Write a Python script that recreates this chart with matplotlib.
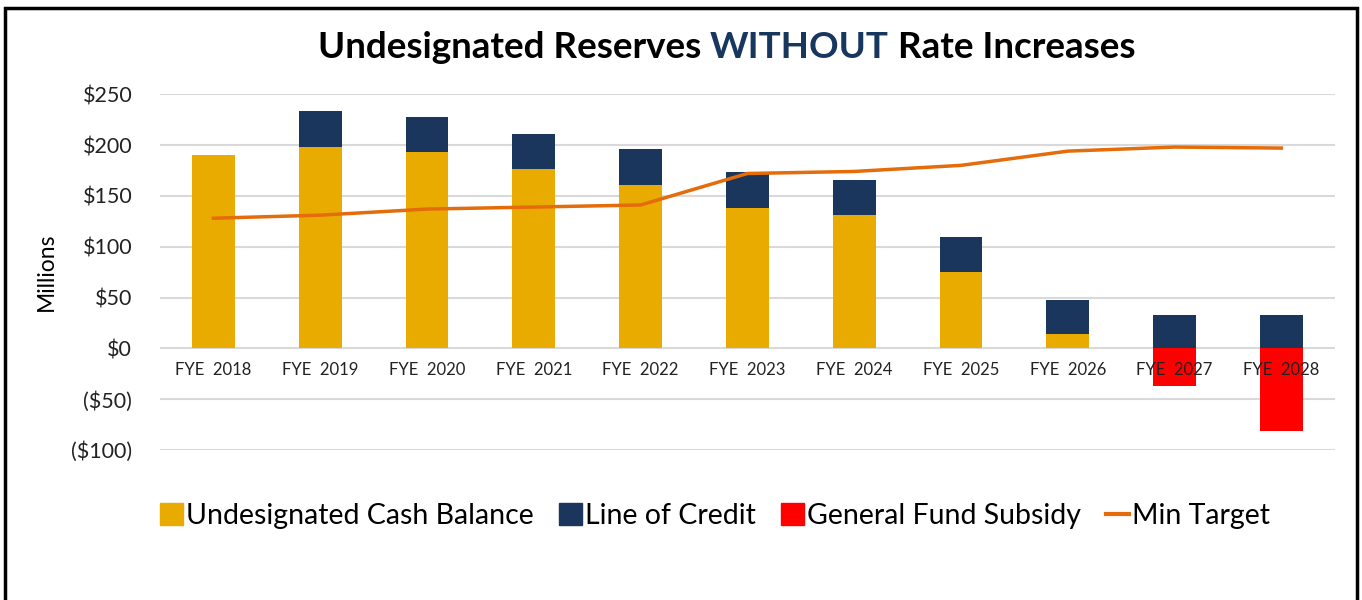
"""Undesignated reserves without rate increases: stacked bars + min target line."""

import matplotlib
matplotlib.use("Agg")
import matplotlib.pyplot as plt
from matplotlib.patches import Patch, Rectangle
from matplotlib.lines import Line2D
from matplotlib.ticker import FuncFormatter

years = ["FYE  2018", "FYE  2019", "FYE  2020", "FYE  2021", "FYE  2022", "FYE  2023",
         "FYE  2024", "FYE  2025", "FYE  2026", "FYE  2027", "FYE  2028"]
cash_balance = [190, 198, 193, 176, 161, 138, 131, 75, 14, 0, 0]
line_of_credit = [0, 35, 35, 35, 35, 35, 35, 35, 34, 33, 33]
general_fund = [0, 0, 0, 0, 0, 0, 0, 0, 0, -37, -81]
min_target = [128, 131, 137, 139, 141, 172, 174, 180, 194, 198, 197]

C_CASH = "#EAAB00"
C_LOC = "#1B365D"
C_GF = "#FF0000"
C_LINE = "#E46C0A"
FONT = ["Lato", "DejaVu Sans"]

plt.rcParams["font.family"] = FONT

fig = plt.figure(figsize=(13.62, 6.0), dpi=100)
ax = fig.add_axes([0.1175, 0.25, 0.8625, 0.593])

x = list(range(len(years)))
w = 0.4
ax.bar(x, cash_balance, width=w, color=C_CASH, zorder=1.2)
ax.bar(x, line_of_credit, width=w, bottom=cash_balance, color=C_LOC, zorder=1.2)
ax.bar(x, general_fund, width=w, color=C_GF, zorder=1.2)
ax.plot(x, min_target, color=C_LINE, lw=2.5, zorder=1.4)

ax.set_xlim(-0.5, len(years) - 0.5)
ax.set_ylim(-100, 250)
yt = list(range(-100, 251, 50))
ax.set_yticks(yt)
# gridlines drawn by hand so tick labels (axis) can sit above the bars
for v in yt:
    ax.axhline(v, color="#D9D9D9", lw=1.5, zorder=0.5)


def money(v, _pos):
    return f"${v:.0f}" if v >= 0 else f"(${-v:.0f})"


ax.yaxis.set_major_formatter(FuncFormatter(money))
ax.tick_params(axis="y", length=0, labelsize=15.5, pad=20, colors="#222222")
for s in ax.spines.values():
    s.set_visible(False)
ax.spines["bottom"].set_position(("data", 0))
ax.set_xticks(x)
ax.set_xticklabels(years)
ax.tick_params(axis="x", length=0, labelsize=12, pad=10, colors="#222222")
ax.set_axisbelow(False)
ax.set_ylabel("Millions", fontsize=16.5, labelpad=10)

# title in three parts, middle word highlighted
t1 = fig.text(318 / 1362, 1 - 48 / 600, "Undesignated Reserves ", fontsize=26.5,
              fontweight="bold", va="center", ha="left")
t2 = ax.annotate("WITHOUT", xycoords=t1, xy=(1, 0), va="bottom", fontsize=26.5,
                 fontweight="bold", color="#17375E", annotation_clip=False)
ax.annotate(" Rate Increases", xycoords=t2, xy=(1, 0), va="bottom", fontsize=26.5,
            fontweight="bold", annotation_clip=False)

handles = [Patch(color=C_CASH), Patch(color=C_LOC), Patch(color=C_GF),
           Line2D([], [], color=C_LINE, lw=3)]
labels = ["Undesignated Cash Balance", "Line of Credit", "General Fund Subsidy", "Min Target"]
fig.legend(handles, labels, loc="center", bbox_to_anchor=(715 / 1362, 1 - 516 / 600),
           ncol=4, frameon=False, fontsize=20.5, handlelength=0.8, handleheight=0.8,
           handletextpad=0.1, columnspacing=0.9)

fig.patches.append(Rectangle((5 / 1362, -0.1), 1352 / 1362, 1.1 - 8 / 600,
                             transform=fig.transFigure, fill=False, lw=2.5,
                             edgecolor="black"))

fig.savefig("out.png", dpi=100)
